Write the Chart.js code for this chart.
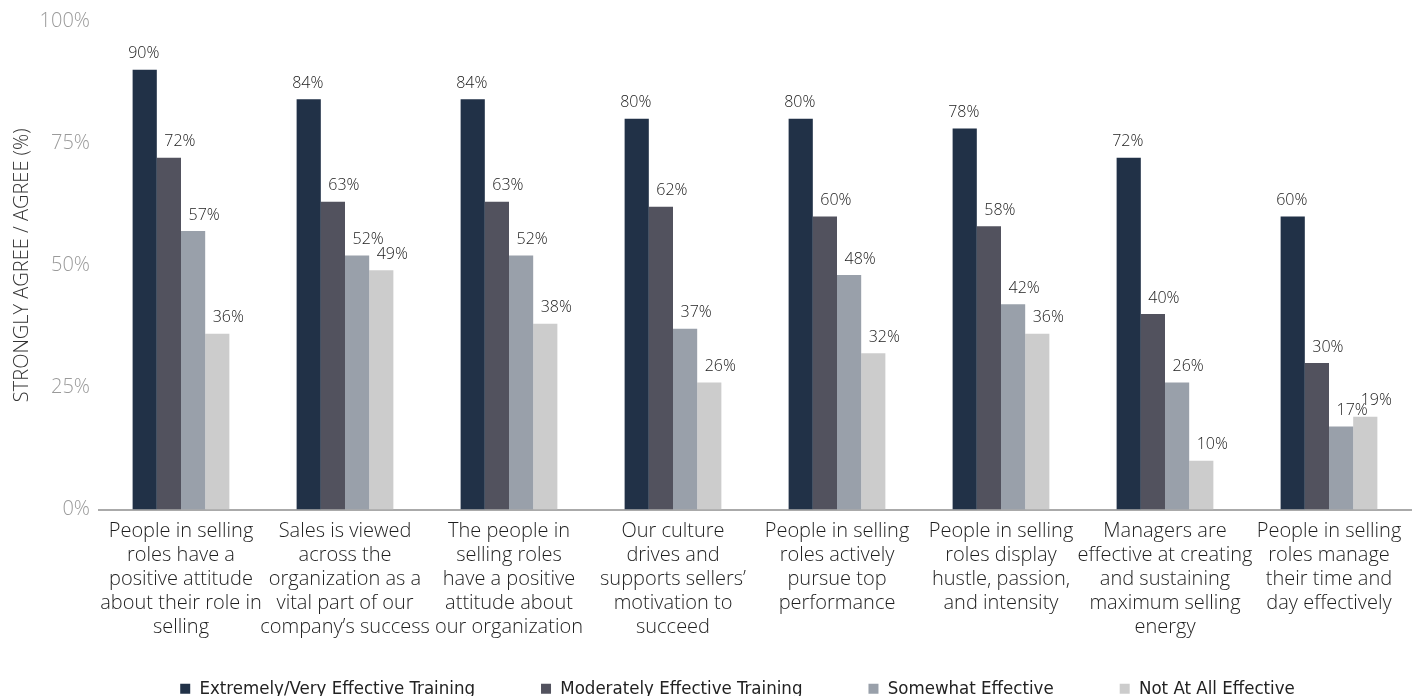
<!DOCTYPE html>
<html>
<head>
<meta charset="utf-8">
<script src="https://cdn.jsdelivr.net/npm/chart.js@4/dist/chart.umd.min.js"></script>
<style>
  html, body { margin: 0; padding: 0; background: #fff; overflow: hidden; }
  #wrap { width: 1418px; height: 744px; position: relative; }
</style>
</head>
<body>
<div id="wrap"><canvas id="chart"></canvas></div>
<script>
// Agreement with sales-culture statements, split by how effective sales training is
const categories = [
  ["People in selling", "roles have a", "positive attitude", "about their role in", "selling"],
  ["Sales is viewed", "across the", "organization as a", "vital part of our", "company\u2019s success"],
  ["The people in", "selling roles", "have a positive", "attitude about", "our organization"],
  ["Our culture", "drives and", "supports sellers\u2019", "motivation to", "succeed"],
  ["People in selling", "roles actively", "pursue top", "performance"],
  ["People in selling", "roles display", "hustle, passion,", "and intensity"],
  ["Managers are", "effective at creating", "and sustaining", "maximum selling", "energy"],
  ["People in selling", "roles manage", "their time and", "day effectively"],
]

const extremelyEffective  = [90, 84, 84, 80, 80, 78, 72, 60]
const moderatelyEffective = [72, 63, 63, 62, 60, 58, 40, 30]
const somewhatEffective   = [57, 52, 52, 37, 48, 42, 26, 17]
const notAtAllEffective   = [36, 49, 38, 26, 32, 36, 10, 19]

const seriesNames = [
  "Extremely/Very Effective Training",
  "Moderately Effective Training",
  "Somewhat Effective",
  "Not At All Effective",
]
const yTicks = [0, 25, 50, 75, 100]

const palette = ["#213147", "#52525e", "#99a0aa", "#cccccc"]
const FONT = "'Open Sans', Lato, sans-serif"
const NARROW = "'Liberation Sans Narrow', 'DejaVu Sans Condensed', 'Open Sans', sans-serif"
const LEGEND_PAD = 66
const LEGEND_LIFT = 36
const LEGEND_NUDGE = 32

// value labels above each bar; the darkest bar's label sits centred,
// the others lean a little to the right
const barLabels = {
  id: "barLabels",
  afterDatasetsDraw(chart) {
    const { ctx } = chart
    ctx.save()
    ctx.font = `300 16px ${FONT}`
    ctx.fillStyle = "#222"
    ctx.textAlign = "center"
    ctx.textBaseline = "bottom"
    chart.data.datasets.forEach((ds, i) => {
      const meta = chart.getDatasetMeta(i)
      meta.data.forEach((bar, j) => {
        const dx = i === 0 ? -1 : 11
        ctx.fillText(ds.data[j] + "%", bar.x + dx, bar.y - 8)
      })
    })
    ctx.restore()
  },
}

// the legend's wide item spacing also pads it vertically; pull it back up
// and sit it a little right of centre
const placeLegend = {
  id: "placeLegend",
  afterLayout(chart) {
    const lg = chart.legend
    if (!lg) return
    lg.top -= LEGEND_LIFT
    lg.bottom -= LEGEND_LIFT
    lg.left += LEGEND_NUDGE
    lg.right += LEGEND_NUDGE
  },
}

const datasets = [extremelyEffective, moderatelyEffective, somewhatEffective, notAtAllEffective]
  .map((data, i) => ({
    label: seriesNames[i],
    data,
    backgroundColor: palette[i],
    borderWidth: 0,
    categoryPercentage: 0.59,
    barPercentage: 1.0,
  }))

new Chart(document.getElementById("chart"), {
  type: "bar",
  data: { labels: categories, datasets },
  plugins: [barLabels, placeLegend],
  options: {
    responsive: true,
    maintainAspectRatio: false,
    animation: false,
    layout: { padding: { top: 21, right: 7, left: 0, bottom: 0 } },
    scales: {
      x: {
        grid: { display: false },
        border: { display: true, color: "#aaaaaa", width: 2 },
        ticks: {
          color: "#1e1e1e",
          font: { family: FONT, size: 20, weight: 300, lineHeight: 1.2 },
          maxRotation: 0,
          autoSkip: false,
          padding: 2,
        },
        afterFit: (scale) => { scale.height = 140 },
      },
      y: {
        min: 0,
        max: 100,
        afterBuildTicks: (scale) => { scale.ticks = yTicks.map(v => ({ value: v })) },
        grid: { display: false },
        border: { display: false },
        ticks: {
          color: "#9a9a9a",
          font: { family: FONT, size: 20, weight: 300 },
          padding: 1,
          callback: (v) => v + "%",
        },
        title: {
          display: true,
          text: "STRONGLY AGREE / AGREE (%)",
          color: "#333",
          font: { family: FONT, size: 20, weight: 300 },
          padding: { top: 10, bottom: 2 },
        },
        afterFit: (scale) => { scale.width = 99 },
      },
    },
    plugins: {
      legend: {
        position: "bottom",
        labels: {
          color: "#222",
          font: { family: NARROW, size: 18.5 },
          boxWidth: 10,
          boxHeight: 10,
          padding: LEGEND_PAD,
        },
      },
      tooltip: { enabled: false },
    },
  },
})
</script>
</body>
</html>
